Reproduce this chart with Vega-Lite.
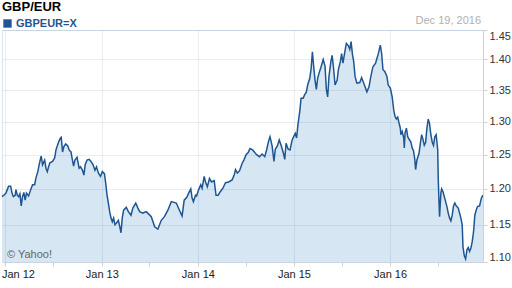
{
  "$schema": "https://vega.github.io/schema/vega-lite/v6.json",
  "width": 481,
  "height": 232,
  "autosize": {"type": "none"},
  "padding": {"left": 2, "top": 30, "right": 29, "bottom": 26},
  "title": {"text": "GBP/EUR", "anchor": "start", "frame": "group", "fontSize": 13, "fontWeight": "bold", "color": "#000000", "offset": 1, "font": "Liberation Sans"},
  "data": {"values": [
    {"date": "2011-12-19", "rate": 1.189}, {"date": "2011-12-26", "rate": 1.191}, {"date": "2012-01-03", "rate": 1.194}, {"date": "2012-01-08", "rate": 1.199},
    {"date": "2012-01-13", "rate": 1.204}, {"date": "2012-01-21", "rate": 1.204}, {"date": "2012-01-26", "rate": 1.194}, {"date": "2012-01-31", "rate": 1.189},
    {"date": "2012-02-07", "rate": 1.191}, {"date": "2012-02-10", "rate": 1.199}, {"date": "2012-02-15", "rate": 1.191}, {"date": "2012-02-20", "rate": 1.189},
    {"date": "2012-02-25", "rate": 1.193}, {"date": "2012-03-01", "rate": 1.176}, {"date": "2012-03-06", "rate": 1.189}, {"date": "2012-03-11", "rate": 1.195},
    {"date": "2012-03-16", "rate": 1.184}, {"date": "2012-03-21", "rate": 1.194}, {"date": "2012-03-29", "rate": 1.190}, {"date": "2012-04-06", "rate": 1.199},
    {"date": "2012-04-13", "rate": 1.206}, {"date": "2012-04-21", "rate": 1.206}, {"date": "2012-04-26", "rate": 1.216}, {"date": "2012-05-03", "rate": 1.225},
    {"date": "2012-05-08", "rate": 1.235}, {"date": "2012-05-14", "rate": 1.245}, {"date": "2012-05-16", "rate": 1.248}, {"date": "2012-05-21", "rate": 1.235},
    {"date": "2012-05-29", "rate": 1.242}, {"date": "2012-06-03", "rate": 1.230}, {"date": "2012-06-08", "rate": 1.225}, {"date": "2012-06-13", "rate": 1.232},
    {"date": "2012-06-18", "rate": 1.238}, {"date": "2012-06-28", "rate": 1.240}, {"date": "2012-07-06", "rate": 1.245}, {"date": "2012-07-11", "rate": 1.257},
    {"date": "2012-07-15", "rate": 1.262}, {"date": "2012-07-21", "rate": 1.269}, {"date": "2012-07-28", "rate": 1.275}, {"date": "2012-07-31", "rate": 1.276},
    {"date": "2012-08-05", "rate": 1.254}, {"date": "2012-08-10", "rate": 1.262}, {"date": "2012-08-17", "rate": 1.266}, {"date": "2012-08-25", "rate": 1.263},
    {"date": "2012-08-30", "rate": 1.257}, {"date": "2012-09-06", "rate": 1.254}, {"date": "2012-09-11", "rate": 1.243}, {"date": "2012-09-16", "rate": 1.233},
    {"date": "2012-09-21", "rate": 1.242}, {"date": "2012-09-29", "rate": 1.246}, {"date": "2012-10-07", "rate": 1.230}, {"date": "2012-10-12", "rate": 1.232},
    {"date": "2012-10-20", "rate": 1.227}, {"date": "2012-10-25", "rate": 1.220}, {"date": "2012-10-30", "rate": 1.235}, {"date": "2012-11-06", "rate": 1.242},
    {"date": "2012-11-14", "rate": 1.243}, {"date": "2012-11-21", "rate": 1.240}, {"date": "2012-11-29", "rate": 1.235}, {"date": "2012-12-06", "rate": 1.227},
    {"date": "2012-12-12", "rate": 1.232}, {"date": "2012-12-19", "rate": 1.223}, {"date": "2012-12-27", "rate": 1.218}, {"date": "2013-01-03", "rate": 1.225},
    {"date": "2013-01-11", "rate": 1.222}, {"date": "2013-01-16", "rate": 1.208}, {"date": "2013-01-21", "rate": 1.191}, {"date": "2013-01-26", "rate": 1.180},
    {"date": "2013-01-31", "rate": 1.168}, {"date": "2013-02-05", "rate": 1.159}, {"date": "2013-02-10", "rate": 1.154}, {"date": "2013-02-15", "rate": 1.159},
    {"date": "2013-02-20", "rate": 1.150}, {"date": "2013-02-25", "rate": 1.152}, {"date": "2013-03-05", "rate": 1.156}, {"date": "2013-03-10", "rate": 1.148},
    {"date": "2013-03-15", "rate": 1.139}, {"date": "2013-03-20", "rate": 1.160}, {"date": "2013-03-25", "rate": 1.170}, {"date": "2013-04-04", "rate": 1.174},
    {"date": "2013-04-12", "rate": 1.168}, {"date": "2013-04-22", "rate": 1.163}, {"date": "2013-04-29", "rate": 1.173}, {"date": "2013-05-10", "rate": 1.180},
    {"date": "2013-05-17", "rate": 1.174}, {"date": "2013-05-25", "rate": 1.168}, {"date": "2013-06-06", "rate": 1.166}, {"date": "2013-06-19", "rate": 1.168},
    {"date": "2013-07-08", "rate": 1.161}, {"date": "2013-07-21", "rate": 1.147}, {"date": "2013-08-02", "rate": 1.144}, {"date": "2013-08-15", "rate": 1.156},
    {"date": "2013-08-27", "rate": 1.161}, {"date": "2013-09-09", "rate": 1.170}, {"date": "2013-09-22", "rate": 1.182}, {"date": "2013-10-11", "rate": 1.180},
    {"date": "2013-10-23", "rate": 1.170}, {"date": "2013-11-02", "rate": 1.162}, {"date": "2013-11-10", "rate": 1.184}, {"date": "2013-11-20", "rate": 1.188},
    {"date": "2013-11-27", "rate": 1.194}, {"date": "2013-12-05", "rate": 1.200}, {"date": "2013-12-10", "rate": 1.187}, {"date": "2013-12-15", "rate": 1.182},
    {"date": "2013-12-23", "rate": 1.191}, {"date": "2013-12-27", "rate": 1.190}, {"date": "2014-01-04", "rate": 1.199}, {"date": "2014-01-12", "rate": 1.206},
    {"date": "2014-01-17", "rate": 1.201}, {"date": "2014-01-25", "rate": 1.218}, {"date": "2014-01-30", "rate": 1.210}, {"date": "2014-02-06", "rate": 1.203},
    {"date": "2014-02-14", "rate": 1.215}, {"date": "2014-02-22", "rate": 1.210}, {"date": "2014-03-04", "rate": 1.212}, {"date": "2014-03-11", "rate": 1.191},
    {"date": "2014-03-19", "rate": 1.191}, {"date": "2014-03-27", "rate": 1.196}, {"date": "2014-04-06", "rate": 1.201}, {"date": "2014-04-16", "rate": 1.209},
    {"date": "2014-04-28", "rate": 1.210}, {"date": "2014-05-11", "rate": 1.213}, {"date": "2014-05-19", "rate": 1.220}, {"date": "2014-05-24", "rate": 1.228},
    {"date": "2014-05-31", "rate": 1.223}, {"date": "2014-06-08", "rate": 1.226}, {"date": "2014-06-18", "rate": 1.237}, {"date": "2014-06-26", "rate": 1.243},
    {"date": "2014-07-03", "rate": 1.250}, {"date": "2014-07-11", "rate": 1.253}, {"date": "2014-07-18", "rate": 1.259}, {"date": "2014-07-28", "rate": 1.257},
    {"date": "2014-08-12", "rate": 1.250}, {"date": "2014-08-23", "rate": 1.247}, {"date": "2014-09-02", "rate": 1.251}, {"date": "2014-09-12", "rate": 1.247},
    {"date": "2014-09-19", "rate": 1.257}, {"date": "2014-09-27", "rate": 1.271}, {"date": "2014-10-02", "rate": 1.277}, {"date": "2014-10-10", "rate": 1.263},
    {"date": "2014-10-17", "rate": 1.240}, {"date": "2014-10-22", "rate": 1.258}, {"date": "2014-10-30", "rate": 1.263}, {"date": "2014-11-06", "rate": 1.272},
    {"date": "2014-11-14", "rate": 1.263}, {"date": "2014-11-22", "rate": 1.252}, {"date": "2014-11-27", "rate": 1.243}, {"date": "2014-12-02", "rate": 1.267},
    {"date": "2014-12-10", "rate": 1.258}, {"date": "2014-12-17", "rate": 1.257}, {"date": "2014-12-25", "rate": 1.272}, {"date": "2015-01-01", "rate": 1.278},
    {"date": "2015-01-06", "rate": 1.282}, {"date": "2015-01-11", "rate": 1.275}, {"date": "2015-01-16", "rate": 1.295}, {"date": "2015-01-23", "rate": 1.316},
    {"date": "2015-01-28", "rate": 1.337}, {"date": "2015-02-05", "rate": 1.337}, {"date": "2015-02-10", "rate": 1.342}, {"date": "2015-02-17", "rate": 1.347},
    {"date": "2015-02-22", "rate": 1.358}, {"date": "2015-03-02", "rate": 1.369}, {"date": "2015-03-07", "rate": 1.384}, {"date": "2015-03-12", "rate": 1.413},
    {"date": "2015-03-17", "rate": 1.388}, {"date": "2015-03-22", "rate": 1.366}, {"date": "2015-03-27", "rate": 1.351}, {"date": "2015-04-01", "rate": 1.369},
    {"date": "2015-04-06", "rate": 1.377}, {"date": "2015-04-14", "rate": 1.388}, {"date": "2015-04-22", "rate": 1.400}, {"date": "2015-04-29", "rate": 1.389},
    {"date": "2015-05-04", "rate": 1.351}, {"date": "2015-05-09", "rate": 1.339}, {"date": "2015-05-14", "rate": 1.372}, {"date": "2015-05-21", "rate": 1.396},
    {"date": "2015-05-26", "rate": 1.407}, {"date": "2015-06-01", "rate": 1.383}, {"date": "2015-06-06", "rate": 1.358}, {"date": "2015-06-14", "rate": 1.366},
    {"date": "2015-06-19", "rate": 1.384}, {"date": "2015-06-26", "rate": 1.396}, {"date": "2015-07-01", "rate": 1.410}, {"date": "2015-07-06", "rate": 1.394},
    {"date": "2015-07-14", "rate": 1.415}, {"date": "2015-07-19", "rate": 1.427}, {"date": "2015-07-27", "rate": 1.423}, {"date": "2015-08-01", "rate": 1.417},
    {"date": "2015-08-06", "rate": 1.430}, {"date": "2015-08-11", "rate": 1.409}, {"date": "2015-08-16", "rate": 1.396}, {"date": "2015-08-21", "rate": 1.372},
    {"date": "2015-08-28", "rate": 1.361}, {"date": "2015-09-08", "rate": 1.362}, {"date": "2015-09-15", "rate": 1.370}, {"date": "2015-09-23", "rate": 1.361},
    {"date": "2015-09-30", "rate": 1.353}, {"date": "2015-10-05", "rate": 1.347}, {"date": "2015-10-13", "rate": 1.355}, {"date": "2015-10-20", "rate": 1.372},
    {"date": "2015-10-28", "rate": 1.388}, {"date": "2015-11-07", "rate": 1.394}, {"date": "2015-11-17", "rate": 1.409}, {"date": "2015-11-25", "rate": 1.424},
    {"date": "2015-11-30", "rate": 1.410}, {"date": "2015-12-05", "rate": 1.383}, {"date": "2015-12-12", "rate": 1.380}, {"date": "2015-12-20", "rate": 1.372},
    {"date": "2015-12-25", "rate": 1.358}, {"date": "2016-01-02", "rate": 1.353}, {"date": "2016-01-09", "rate": 1.339}, {"date": "2016-01-15", "rate": 1.318},
    {"date": "2016-01-20", "rate": 1.308}, {"date": "2016-01-25", "rate": 1.304}, {"date": "2016-01-30", "rate": 1.307}, {"date": "2016-02-04", "rate": 1.298},
    {"date": "2016-02-09", "rate": 1.290}, {"date": "2016-02-11", "rate": 1.280}, {"date": "2016-02-16", "rate": 1.285}, {"date": "2016-02-22", "rate": 1.275},
    {"date": "2016-02-24", "rate": 1.260}, {"date": "2016-02-27", "rate": 1.283}, {"date": "2016-03-03", "rate": 1.290}, {"date": "2016-03-08", "rate": 1.277},
    {"date": "2016-03-15", "rate": 1.272}, {"date": "2016-03-20", "rate": 1.269}, {"date": "2016-03-25", "rate": 1.260}, {"date": "2016-03-30", "rate": 1.256},
    {"date": "2016-04-04", "rate": 1.243}, {"date": "2016-04-07", "rate": 1.228}, {"date": "2016-04-12", "rate": 1.242}, {"date": "2016-04-20", "rate": 1.252},
    {"date": "2016-04-25", "rate": 1.267}, {"date": "2016-04-30", "rate": 1.280}, {"date": "2016-05-05", "rate": 1.273}, {"date": "2016-05-10", "rate": 1.264},
    {"date": "2016-05-15", "rate": 1.268}, {"date": "2016-05-20", "rate": 1.290}, {"date": "2016-05-25", "rate": 1.304}, {"date": "2016-05-30", "rate": 1.297},
    {"date": "2016-06-04", "rate": 1.280}, {"date": "2016-06-09", "rate": 1.269}, {"date": "2016-06-14", "rate": 1.264}, {"date": "2016-06-19", "rate": 1.277},
    {"date": "2016-06-24", "rate": 1.280}, {"date": "2016-06-30", "rate": 1.257}, {"date": "2016-07-02", "rate": 1.215}, {"date": "2016-07-05", "rate": 1.180},
    {"date": "2016-07-07", "rate": 1.161}, {"date": "2016-07-12", "rate": 1.194}, {"date": "2016-07-15", "rate": 1.200}, {"date": "2016-07-20", "rate": 1.196},
    {"date": "2016-07-25", "rate": 1.189}, {"date": "2016-07-30", "rate": 1.182}, {"date": "2016-08-04", "rate": 1.175}, {"date": "2016-08-09", "rate": 1.166},
    {"date": "2016-08-14", "rate": 1.159}, {"date": "2016-08-19", "rate": 1.155}, {"date": "2016-08-24", "rate": 1.163}, {"date": "2016-08-29", "rate": 1.176},
    {"date": "2016-09-03", "rate": 1.180}, {"date": "2016-09-08", "rate": 1.176}, {"date": "2016-09-16", "rate": 1.173}, {"date": "2016-09-21", "rate": 1.166},
    {"date": "2016-09-26", "rate": 1.159}, {"date": "2016-10-01", "rate": 1.150}, {"date": "2016-10-04", "rate": 1.120}, {"date": "2016-10-09", "rate": 1.108},
    {"date": "2016-10-14", "rate": 1.104}, {"date": "2016-10-19", "rate": 1.116}, {"date": "2016-10-24", "rate": 1.119}, {"date": "2016-10-29", "rate": 1.114},
    {"date": "2016-11-03", "rate": 1.118}, {"date": "2016-11-08", "rate": 1.127}, {"date": "2016-11-13", "rate": 1.140}, {"date": "2016-11-18", "rate": 1.163},
    {"date": "2016-11-23", "rate": 1.170}, {"date": "2016-11-28", "rate": 1.175}, {"date": "2016-12-06", "rate": 1.176}, {"date": "2016-12-11", "rate": 1.184},
    {"date": "2016-12-14", "rate": 1.188}, {"date": "2016-12-19", "rate": 1.191}
  ]},
  "layer": [
    {
      "mark": {"type": "area", "color": "#d6e6f2", "line": false},
      "encoding": {
        "x": {
          "field": "date", "type": "temporal",
          "scale": {"domain": [{"year": 2011, "month": 12, "date": 19}, {"year": 2016, "month": 12, "date": 19}], "nice": false},
          "axis": {
            "title": null,
            "values": [
              {"year": 2012, "month": 1, "date": 1}, {"year": 2012, "month": 4, "date": 1}, {"year": 2012, "month": 7, "date": 1}, {"year": 2012, "month": 10, "date": 1},
              {"year": 2013, "month": 1, "date": 1}, {"year": 2013, "month": 4, "date": 1}, {"year": 2013, "month": 7, "date": 1}, {"year": 2013, "month": 10, "date": 1},
              {"year": 2014, "month": 1, "date": 1}, {"year": 2014, "month": 4, "date": 1}, {"year": 2014, "month": 7, "date": 1}, {"year": 2014, "month": 10, "date": 1},
              {"year": 2015, "month": 1, "date": 1}, {"year": 2015, "month": 4, "date": 1}, {"year": 2015, "month": 7, "date": 1}, {"year": 2015, "month": 10, "date": 1},
              {"year": 2016, "month": 1, "date": 1}, {"year": 2016, "month": 4, "date": 1}, {"year": 2016, "month": 7, "date": 1}, {"year": 2016, "month": 10, "date": 1}
            ],
            "labelExpr": "month(datum.value) == 0 ? 'Jan ' + timeFormat(datum.value, '%y') : ''",
            "labelFlush": 5,
            "labelFlushOffset": 4,
            "labelOverlap": false,
            "labelFontSize": 11,
            "labelColor": "#222222",
            "labelPadding": 2,
            "tickColor": "#d0d0d0",
            "tickSize": 4,
            "domain": false,
            "grid": true,
            "gridColor": "#1f5691",
            "gridOpacity": {"condition": {"test": "month(datum.value) == 0", "value": 0.1}, "value": 0},
            "zindex": 1
          }
        },
        "y": {
          "field": "rate", "type": "quantitative", "stack": null,
          "scale": {"type": "log", "domain": [1.1, 1.45], "nice": false},
          "axis": {
            "orient": "right",
            "title": null,
            "values": [1.1, 1.15, 1.2, 1.25, 1.3, 1.35, 1.4, 1.45],
            "format": ".2f",
            "labelFlush": true,
            "labelFontSize": 11,
            "labelColor": "#333333",
            "labelPadding": 2,
            "tickSize": 4,
            "tickColor": "#d0d0d0",
            "domainColor": "#d0d0d0",
            "grid": true,
            "gridColor": "#1f5691",
            "gridOpacity": 0.1,
            "zindex": 1
          }
        }
      }
    },
    {
      "mark": {"type": "line", "color": "#1f5691", "strokeWidth": 1.5},
      "encoding": {
        "x": {"field": "date", "type": "temporal"},
        "y": {"field": "rate", "type": "quantitative"}
      }
    },
    {
      "data": {"values": []},
      "mark": {"type": "square", "filled": true, "opacity": 1},
      "encoding": {
        "color": {
          "datum": "GBPEUR=X",
          "scale": {"range": ["#1f5691"]},
          "legend": {
            "orient": "top", "title": null, "symbolType": "square", "symbolSize": 70, "symbolStrokeWidth": 0,
            "labelFontSize": 11, "labelFontWeight": "bold", "labelColor": "#1f5691", "labelOffset": 3,
            "padding": 0, "offset": 1, "labelFont": "Liberation Sans"
          }
        }
      }
    },
    {
      "data": {"values": [{"label": "Dec 19, 2016"}]},
      "mark": {"type": "text", "align": "right", "baseline": "alphabetic", "dx": -2, "dy": -6, "fontSize": 11, "color": "#b0b0b0"},
      "encoding": {
        "x": {"datum": {"year": 2016, "month": 12, "date": 19}, "type": "temporal"},
        "y": {"datum": 1.45, "type": "quantitative"},
        "text": {"field": "label"}
      }
    },
    {
      "data": {"values": [{"label": "© Yahoo!"}]},
      "mark": {"type": "text", "align": "left", "baseline": "alphabetic", "dx": 5, "dy": -4, "fontSize": 11, "color": "#666666"},
      "encoding": {
        "x": {"datum": {"year": 2011, "month": 12, "date": 19}, "type": "temporal"},
        "y": {"datum": 1.1, "type": "quantitative"},
        "text": {"field": "label"}
      }
    }
  ],
  "config": {
    "font": "Liberation Sans",
    "view": {"stroke": "#dde3ea"},
    "axis": {"labelFont": "Liberation Sans"},
    "text": {"font": "Liberation Sans"}
  }
}
